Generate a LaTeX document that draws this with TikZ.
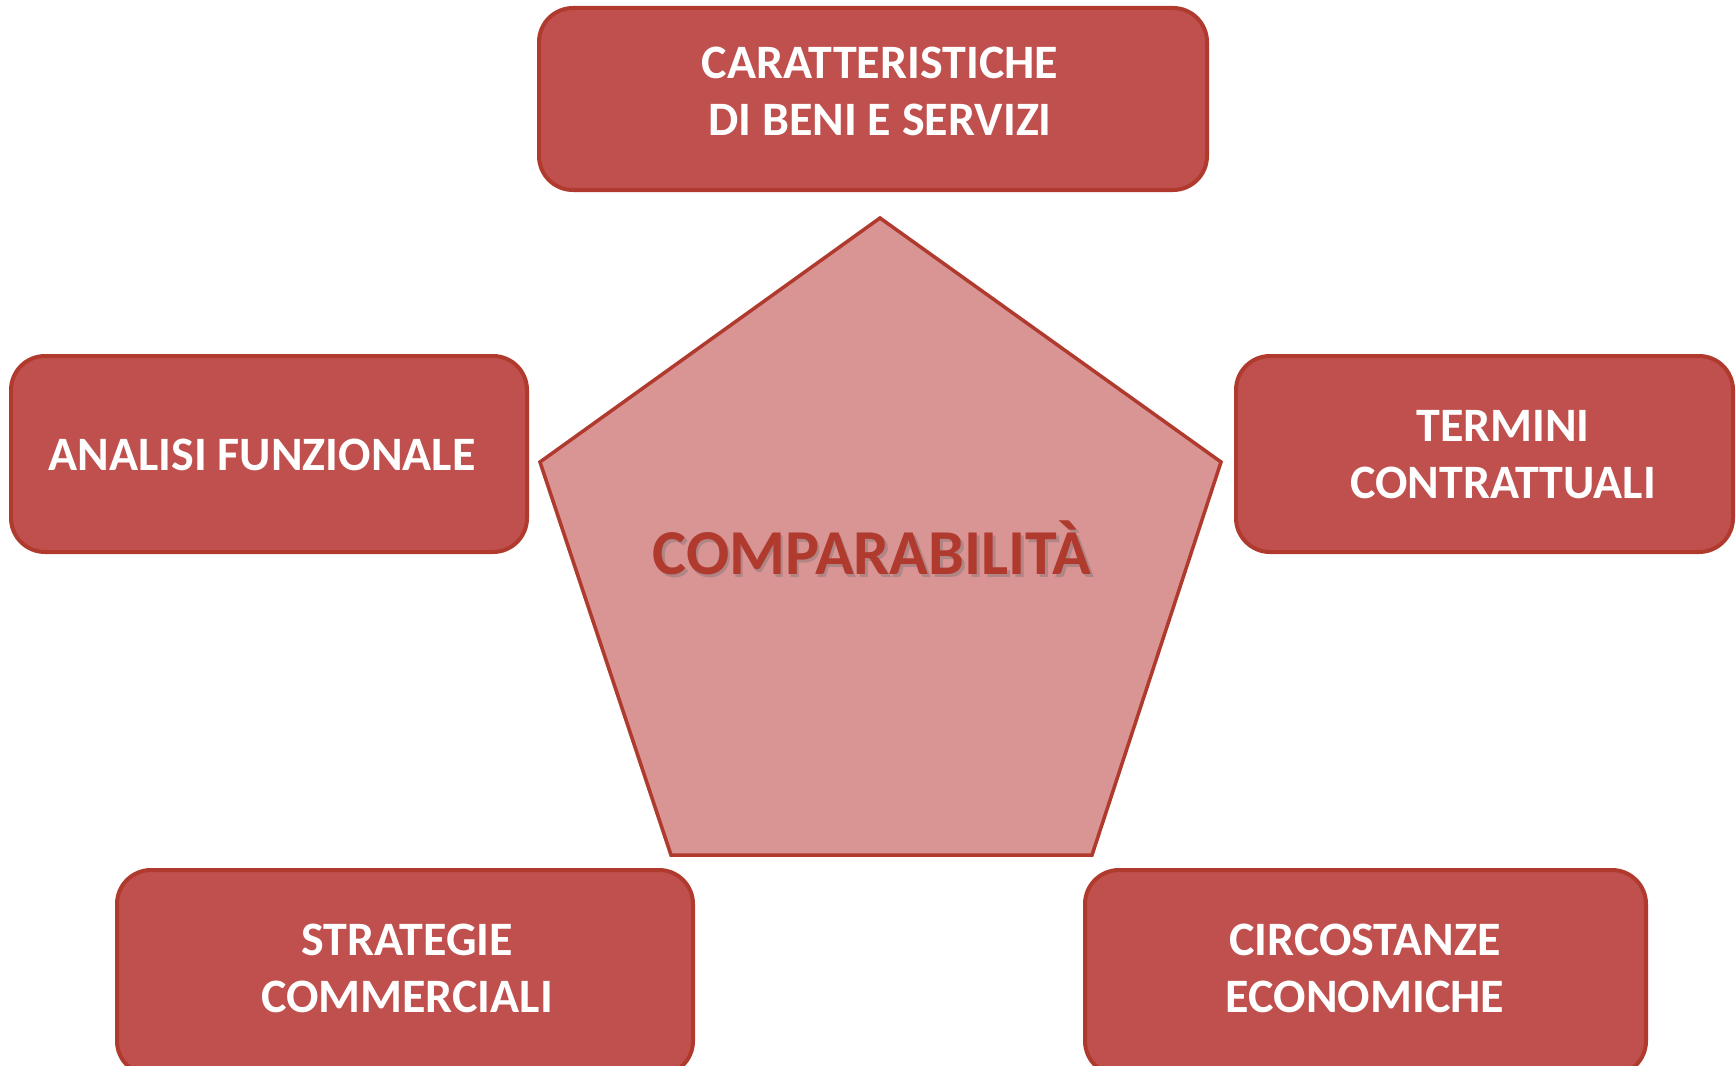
\documentclass[tikz,border=0pt]{standalone}
\usepackage{fontspec}
\setmainfont{Carlito}
\definecolor{boxfill}{HTML}{C0504D}
\definecolor{boxline}{HTML}{B03A2E}
\definecolor{pentfill}{HTML}{D99594}
\definecolor{shadowc}{HTML}{B08585}
\begin{document}
\begin{tikzpicture}[x=1pt,y=-1pt,
  card/.style={draw=boxline,fill=boxfill,line width=4pt,rounded corners=34pt},
  cardtext/.style={text=white,font=\fontsize{48}{57}\selectfont\bfseries,align=center,inner sep=0pt},
]
\useasboundingbox (0,0) rectangle (1736,1065);
\clip (0,0) rectangle (1736,1065);
% pentagon
\coordinate (pt) at (880,218);
\coordinate (pr) at (1221,462);
\coordinate (pbr) at (1092,855);
\coordinate (pbl) at (671,855);
\coordinate (pl) at (540,462);
\draw[draw=boxline,fill=pentfill,line width=3.5pt,line join=miter] (pt) -- (pr) -- (pbr) -- (pbl) -- (pl) -- cycle;
\node[font=\fontsize{64}{70}\selectfont\bfseries,inner sep=0pt] (comp) at (872,549)
  {\rlap{\hspace{2.5pt}\raisebox{-3pt}{\textcolor{shadowc}{COMPARABILITÀ}}}\textcolor{boxline}{COMPARABILITÀ}};
% boxes
\draw[card] (539,8) rectangle (1207,190);
\node[cardtext] (t1) at (880,91) {CARATTERISTICHE\\DI BENI E SERVIZI};
\draw[card] (11,356) rectangle (527,552);
\node[cardtext] (t2) at (262,455) {ANALISI FUNZIONALE};
\draw[card] (1236,356) rectangle (1733,552);
\node[cardtext] (t3) at (1503,455) {TERMINI\\CONTRATTUALI};
\draw[card] (117,870) rectangle (693,1075);
\node[cardtext] (t4) at (407,968) {STRATEGIE\\COMMERCIALI};
\draw[card] (1085,870) rectangle (1646,1075);
\node[cardtext] (t5) at (1365,968) {CIRCOSTANZE\\ECONOMICHE};
\end{tikzpicture}
\end{document}
